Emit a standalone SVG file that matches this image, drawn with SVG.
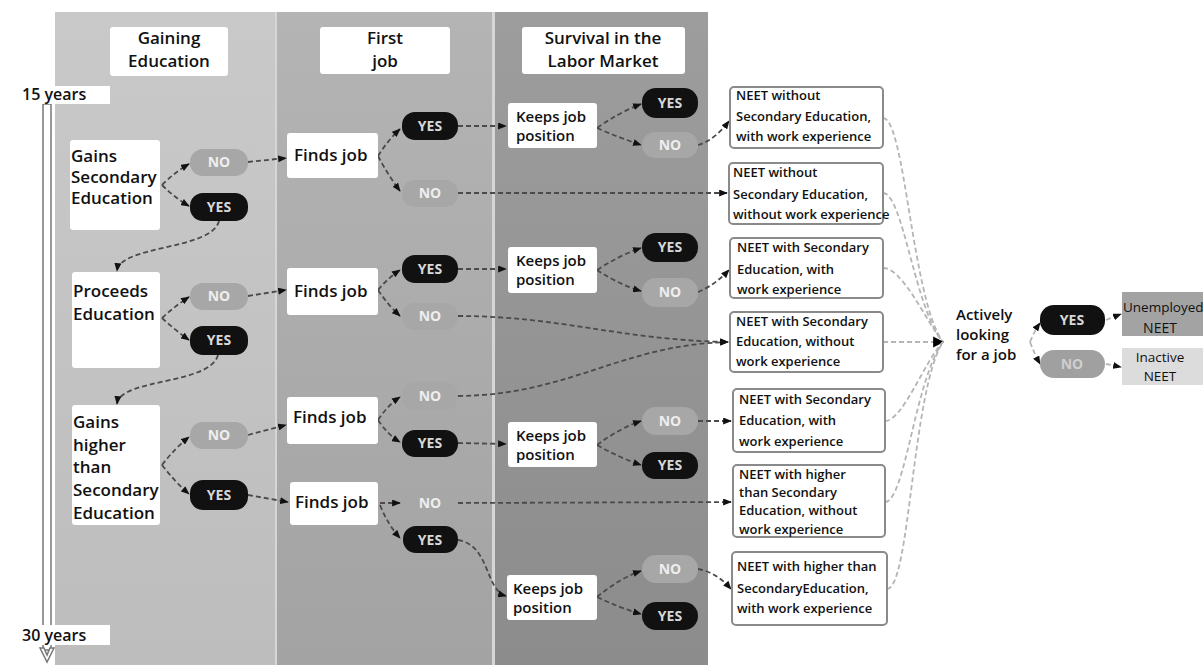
<svg xmlns="http://www.w3.org/2000/svg" width="1203" height="665" viewBox="0 0 1203 665">
<defs>
<linearGradient id="g1" x1="0" y1="0" x2="0" y2="1"><stop offset="0" stop-color="#c9c9c9"/><stop offset="1" stop-color="#bdbdbd"/></linearGradient>
<linearGradient id="g2" x1="0" y1="0" x2="0" y2="1"><stop offset="0" stop-color="#b4b4b4"/><stop offset="1" stop-color="#a3a3a3"/></linearGradient>
<linearGradient id="g3" x1="0" y1="0" x2="0" y2="1"><stop offset="0" stop-color="#9d9d9d"/><stop offset="1" stop-color="#8c8c8c"/></linearGradient>
<marker id="ah" viewBox="0 0 10 8" refX="9" refY="4" markerWidth="9" markerHeight="7" markerUnits="userSpaceOnUse" orient="auto"><path d="M0,0 L10,4 L0,8 Z" fill="#111"/></marker>
<marker id="ahb" viewBox="0 0 10 10" refX="9" refY="5" markerWidth="11" markerHeight="12" markerUnits="userSpaceOnUse" orient="auto"><path d="M0,0 L10,5 L0,10 Z" fill="#000"/></marker>
</defs>
<style>
text{font-family:"Open Sans","Liberation Sans",sans-serif;fill:#111}
.hdr{font-size:17px;font-weight:600;text-anchor:middle}
.lbl{font-size:17px;font-weight:600}
.kp{font-size:15px;font-weight:600}
.act{font-size:15px;font-weight:600}
.neet{font-size:13px;font-weight:600}
.box{fill:#fff}
.nbox{fill:#fff;stroke:#8a8a8a;stroke-width:2}
.yes{fill:#111}
.no{fill:#a7a7a7}
.yt{font-size:14px;font-weight:700;fill:#d8d8d8;text-anchor:middle}
.nt{font-size:14px;font-weight:700;fill:#eeeeee;text-anchor:middle}
.c{fill:none;stroke:#4a4a4a;stroke-width:1.8;stroke-dasharray:5 3;marker-end:url(#ah)}
.cl{fill:none;stroke:#b5b5b5;stroke-width:1.8;stroke-dasharray:5 3}
</style>
<rect width="1203" height="665" fill="#fff"/>
<g id="bands">
<rect x="55" y="12" width="653" height="653" fill="#d6d6d6"/>
<rect x="55" y="12" width="220" height="653" fill="url(#g1)"/>
<rect x="277" y="12" width="215" height="653" fill="url(#g2)"/>
<rect x="495" y="12" width="213" height="653" fill="url(#g3)"/>
</g>
<g id="headers">
<rect x="110" y="27" width="118" height="49" rx="3" class="box"/>
<text class="hdr" x="169" y="44">Gaining</text><text class="hdr" x="169" y="67">Education</text>
<rect x="320" y="27" width="130" height="47" rx="3" class="box"/>
<text class="hdr" x="385" y="44">First</text><text class="hdr" x="385" y="67">job</text>
<rect x="522" y="27" width="163" height="47" rx="3" class="box"/>
<text class="hdr" x="603" y="44">Survival in the</text><text class="hdr" x="603" y="67">Labor Market</text>
</g>
<g id="timeline">
<rect x="43" y="104" width="8" height="546" fill="#fff" stroke="#777" stroke-width="1.5"/>
<path d="M40,648 L47,662 L54,648 L50,648 L47,655 L44,648 Z" fill="#fff" stroke="#777" stroke-width="1.5"/>
<rect x="12" y="86" width="98" height="18" fill="#fff"/>
<text class="lbl" x="22" y="100" style="font-size:16px">15 years</text>
<rect x="10" y="625" width="100" height="20" fill="#fff"/>
<text class="lbl" x="22" y="641" style="font-size:16px">30 years</text>
</g>
<g id="connectors">
<path class="c" d="M162,185 Q175,172 189,164"/>
<path class="c" d="M162,185 Q175,198 189,206"/>
<path class="c" d="M248,162 L286,158"/>
<path class="c" d="M219,221 C212,250 120,245 117,271"/>
<path class="c" d="M162,318 Q175,306 189,297"/>
<path class="c" d="M162,318 Q175,330 189,340"/>
<path class="c" d="M248,296 L286,290"/>
<path class="c" d="M218,355 C210,385 120,378 117,404"/>
<path class="c" d="M162,465 Q175,448 189,437"/>
<path class="c" d="M162,465 Q175,482 189,494"/>
<path class="c" d="M248,435 L286,425"/>
<path class="c" d="M248,495 L288,502"/>
<path class="c" d="M378,156 Q388,140 400,129"/>
<path class="c" d="M378,156 Q388,175 400,191"/>
<path class="c" d="M458,126 L506,126"/>
<path class="c" d="M597,128 Q620,112 641,104"/>
<path class="c" d="M597,128 Q620,138 641,145"/>
<path class="c" d="M698,145 Q715,140 729,121"/>
<path class="c" d="M458,193 L727,193"/>
<path class="c" d="M378,290 Q388,278 400,270"/>
<path class="c" d="M378,290 Q388,305 400,316"/>
<path class="c" d="M458,269 L506,269"/>
<path class="c" d="M597,270 Q620,255 641,248"/>
<path class="c" d="M597,270 Q620,285 641,291"/>
<path class="c" d="M698,292 Q715,285 729,270"/>
<path class="c" d="M458,316 C560,316 620,340 728,342"/>
<path class="c" d="M458,396 C570,395 620,345 728,342"/>
<path class="c" d="M378,420 Q388,405 400,397"/>
<path class="c" d="M378,420 Q388,435 400,442"/>
<path class="c" d="M458,443 L506,444"/>
<path class="c" d="M597,445 Q620,428 641,421"/>
<path class="c" d="M597,445 Q620,458 641,465"/>
<path class="c" d="M698,421 L731,421"/>
<path class="c" d="M380,503 L400,503"/>
<path class="c" d="M380,505 Q388,525 400,538"/>
<path class="c" d="M458,503 L731,502"/>
<path class="c" d="M458,540 C490,545 485,590 506,596"/>
<path class="c" d="M597,597 Q620,578 641,571"/>
<path class="c" d="M597,597 Q620,608 641,614"/>
<path class="c" d="M698,569 Q716,572 731,589"/>
<path class="cl" d="M883,118 C905,118 912,300 943,342"/>
<path class="cl" d="M883,193 C903,193 915,310 943,342"/>
<path class="cl" d="M883,268 C903,268 925,320 943,342"/>
<path class="cl" d="M883,342 L943,342" style="marker-end:url(#ahb)"/>
<path class="cl" d="M885,421 C903,421 925,360 943,342"/>
<path class="cl" d="M885,502 C905,502 915,380 943,342"/>
<path class="cl" d="M887,589 C910,589 912,390 943,342"/>
<path class="cl" d="M1030,342 Q1035,330 1040,323" style="marker-end:url(#ah)"/>
<path class="cl" d="M1030,342 Q1035,355 1040,364" style="marker-end:url(#ah)"/>
<path class="cl" d="M1106,320 L1121,314" style="marker-end:url(#ah)"/>
<path class="cl" d="M1106,364 L1121,367" style="marker-end:url(#ah)"/>
</g>
<g id="n-gains-sec">
<rect x="70" y="140" width="90" height="90" rx="3" class="box"/>
<text class="lbl" x="71" y="162">Gains</text><text class="lbl" x="71" y="183">Secondary</text><text class="lbl" x="71" y="204">Education</text>
</g>
<g id="p1-no"><rect x="190" y="149" width="58" height="27" rx="13" class="no"/><text class="nt" x="219" y="167">NO</text></g>
<g id="p1-yes"><rect x="190" y="193" width="58" height="28" rx="13" class="yes"/><text class="yt" x="219" y="212">YES</text></g>
<g id="n-proceeds">
<rect x="72" y="272" width="88" height="96" rx="3" class="box"/>
<text class="lbl" x="73" y="297">Proceeds</text><text class="lbl" x="73" y="320">Education</text>
</g>
<g id="p2-no"><rect x="190" y="283" width="58" height="27" rx="13" class="no"/><text class="nt" x="219" y="301">NO</text></g>
<g id="p2-yes"><rect x="190" y="326" width="58" height="29" rx="13" class="yes"/><text class="yt" x="219" y="345">YES</text></g>
<g id="n-gains-higher">
<rect x="72" y="405" width="88" height="120" rx="3" class="box"/>
<text class="lbl" x="73" y="428">Gains</text><text class="lbl" x="73" y="451">higher</text><text class="lbl" x="73" y="473">than</text><text class="lbl" x="73" y="496">Secondary</text><text class="lbl" x="73" y="519">Education</text>
</g>
<g id="p3-no"><rect x="190" y="422" width="58" height="27" rx="13" class="no"/><text class="nt" x="219" y="440">NO</text></g>
<g id="p3-yes"><rect x="190" y="480" width="58" height="30" rx="13" class="yes"/><text class="yt" x="219" y="500">YES</text></g>
<g id="n-finds1"><rect x="287" y="133" width="91" height="45" rx="3" class="box"/><text class="lbl" x="294" y="161">Finds job</text></g>
<g id="f1-yes"><rect x="402" y="112" width="56" height="28" rx="13" class="yes"/><text class="yt" x="430" y="131">YES</text></g>
<g id="f1-no"><rect x="402" y="180" width="56" height="27" rx="13" class="no"/><text class="nt" x="430" y="198">NO</text></g>
<g id="n-finds2"><rect x="287" y="268" width="91" height="47" rx="3" class="box"/><text class="lbl" x="294" y="297">Finds job</text></g>
<g id="f2-yes"><rect x="402" y="255" width="56" height="28" rx="13" class="yes"/><text class="yt" x="430" y="274">YES</text></g>
<g id="f2-no"><rect x="402" y="303" width="56" height="27" rx="13" class="no"/><text class="nt" x="430" y="321">NO</text></g>
<g id="n-finds3"><rect x="287" y="397" width="91" height="47" rx="3" class="box"/><text class="lbl" x="293" y="423">Finds job</text></g>
<g id="f3-no"><rect x="402" y="382" width="56" height="28" rx="13" class="no"/><text class="nt" x="430" y="401">NO</text></g>
<g id="f3-yes"><rect x="402" y="430" width="56" height="27" rx="13" class="yes"/><text class="yt" x="430" y="448">YES</text></g>
<g id="n-finds4"><rect x="290" y="482" width="88" height="43" rx="3" class="box"/><text class="lbl" x="295" y="508">Finds job</text></g>
<g id="f4-no"><rect x="403" y="490" width="55" height="27" rx="13" class="no"/><text class="nt" x="430" y="508">NO</text></g>
<g id="f4-yes"><rect x="403" y="526" width="55" height="27" rx="13" class="yes"/><text class="yt" x="430" y="545">YES</text></g>
<g id="n-keeps1"><rect x="508" y="103" width="89" height="45" rx="3" class="box"/><text class="kp" x="516" y="122">Keeps job</text><text class="kp" x="516" y="141">position</text></g>
<g id="k1-yes"><rect x="642" y="88" width="56" height="30" rx="14" class="yes"/><text class="yt" x="670" y="108">YES</text></g>
<g id="k1-no"><rect x="642" y="132" width="56" height="26" rx="13" class="no"/><text class="nt" x="670" y="150">NO</text></g>
<g id="n-keeps2"><rect x="508" y="247" width="89" height="46" rx="3" class="box"/><text class="kp" x="516" y="266">Keeps job</text><text class="kp" x="516" y="285">position</text></g>
<g id="k2-yes"><rect x="642" y="233" width="56" height="29" rx="14" class="yes"/><text class="yt" x="670" y="252">YES</text></g>
<g id="k2-no"><rect x="642" y="278" width="56" height="29" rx="14" class="no"/><text class="nt" x="670" y="297">NO</text></g>
<g id="n-keeps3"><rect x="508" y="422" width="89" height="45" rx="3" class="box"/><text class="kp" x="516" y="441">Keeps job</text><text class="kp" x="516" y="460">position</text></g>
<g id="k3-no"><rect x="642" y="407" width="56" height="28" rx="14" class="no"/><text class="nt" x="670" y="426">NO</text></g>
<g id="k3-yes"><rect x="642" y="452" width="56" height="27" rx="13" class="yes"/><text class="yt" x="670" y="470">YES</text></g>
<g id="n-keeps4"><rect x="507" y="575" width="90" height="45" rx="3" class="box"/><text class="kp" x="513" y="594">Keeps job</text><text class="kp" x="513" y="613">position</text></g>
<g id="k4-no"><rect x="642" y="555" width="56" height="28" rx="14" class="no"/><text class="nt" x="670" y="574">NO</text></g>
<g id="k4-yes"><rect x="642" y="602" width="56" height="28" rx="14" class="yes"/><text class="yt" x="670" y="621">YES</text></g>
<g id="neet1"><rect x="730" y="87" width="153" height="61" rx="4" class="nbox"/>
<text class="neet" x="736" y="100">NEET without</text><text class="neet" x="736" y="121">Secondary Education,</text><text class="neet" x="736" y="141">with work experience</text></g>
<g id="neet2"><rect x="729" y="163" width="154" height="61" rx="4" class="nbox"/>
<text class="neet" x="733" y="177">NEET without</text><text class="neet" x="733" y="199">Secondary Education,</text><text class="neet" x="733" y="219">without work experience</text></g>
<g id="neet3"><rect x="730" y="238" width="153" height="60" rx="4" class="nbox"/>
<text class="neet" x="737" y="252">NEET with Secondary</text><text class="neet" x="737" y="274">Education, with</text><text class="neet" x="737" y="294">work experience</text></g>
<g id="neet4"><rect x="730" y="312" width="153" height="60" rx="4" class="nbox"/>
<text class="neet" x="736" y="326">NEET with Secondary</text><text class="neet" x="736" y="346">Education, without</text><text class="neet" x="736" y="366">work experience</text></g>
<g id="neet5"><rect x="733" y="389" width="152" height="63" rx="4" class="nbox"/>
<text class="neet" x="739" y="404">NEET with Secondary</text><text class="neet" x="739" y="425">Education, with</text><text class="neet" x="739" y="446">work experience</text></g>
<g id="neet6"><rect x="733" y="465" width="152" height="72" rx="4" class="nbox"/>
<text class="neet" x="739" y="479">NEET with higher</text><text class="neet" x="739" y="497">than Secondary</text><text class="neet" x="739" y="515">Education, without</text><text class="neet" x="739" y="534">work experience</text></g>
<g id="neet7"><rect x="732" y="552" width="155" height="73" rx="4" class="nbox"/>
<text class="neet" x="737" y="571">NEET with higher than</text><text class="neet" x="737" y="593">SecondaryEducation,</text><text class="neet" x="737" y="613">with work experience</text></g>
<g id="n-actively"><rect x="953" y="303" width="75" height="77" rx="2" class="box"/>
<text class="act" x="956" y="320">Actively</text><text class="act" x="956" y="340">looking</text><text class="act" x="956" y="360">for a job</text></g>
<g id="a-yes"><rect x="1040" y="305" width="65" height="30" rx="14" class="yes"/><text class="yt" x="1072" y="325">YES</text></g>
<g id="a-no"><rect x="1040" y="350" width="65" height="28" rx="14" fill="#a0a0a0"/><text class="nt" x="1072" y="369" style="fill:#cfcfcf">NO</text></g>
<g id="n-unemployed"><rect x="1122" y="292" width="90" height="44" fill="#a3a3a3"/>
<text x="1123" y="312" style="font-size:13.5px;font-weight:500">Unemployed</text><text x="1160" y="333" style="font-size:14px;font-weight:500;text-anchor:middle">NEET</text></g>
<g id="n-inactive"><rect x="1122" y="348" width="90" height="37" fill="#dcdcdc"/>
<text x="1160" y="362" style="font-size:13.5px;font-weight:500;text-anchor:middle">Inactive</text><text x="1160" y="381" style="font-size:13.5px;font-weight:500;text-anchor:middle">NEET</text></g>
</svg>
